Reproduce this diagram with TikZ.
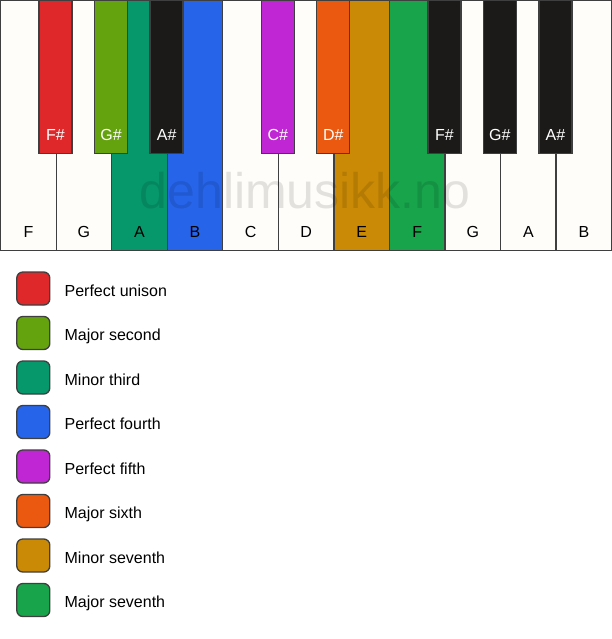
\documentclass[tikz,border=0pt]{standalone}
\usepackage{fontspec}
\setmainfont{Liberation Sans}
\usepackage{tikz}
\usetikzlibrary{positioning}
\usepackage{xcolor}
\definecolor{ivory}{HTML}{FFFDF9}
\definecolor{ebony}{HTML}{1C1A19}
\definecolor{keyline}{HTML}{3F3F3F}
\definecolor{unison}{HTML}{DF2829}
\definecolor{majsecond}{HTML}{64A30E}
\definecolor{minthird}{HTML}{06976A}
\definecolor{perffourth}{HTML}{2664EA}
\definecolor{perffifth}{HTML}{C026D3}
\definecolor{majsixth}{HTML}{EA590F}
\definecolor{minseventh}{HTML}{CA8A05}
\definecolor{majseventh}{HTML}{17A44B}

\tikzset{
  whitekey/.style={rectangle, draw=keyline, fill=ivory, line width=1.3pt,
    minimum width=55.545pt, minimum height=250pt, inner sep=0pt, anchor=north west},
  blackkey/.style={rectangle, draw=keyline, fill=ebony, line width=1.3pt,
    minimum width=33pt, minimum height=153pt, inner sep=0pt, anchor=north},
  keyname/.style={font=\fontsize{16}{18}\selectfont, text=black, inner sep=0pt, anchor=base},
  sharpname/.style={keyname, text=white},
  swatch/.style={rectangle, rounded corners=6pt, draw=keyline, line width=1.3pt,
    minimum size=33pt, inner sep=0pt},
  legendtext/.style={font=\fontsize{16}{18}\selectfont, text=black, inner sep=0pt, anchor=base west},
  watermark/.style={font=\fontsize{50}{55}\selectfont, text=black, text opacity=0.11, inner sep=0pt, anchor=base}
}

\begin{document}
\begin{tikzpicture}[x=1pt, y=-1pt]
\useasboundingbox (0,0) rectangle (611,639);

% white keys
\node[whitekey] (wkF1) at (0,0) {};
\node[whitekey] (wkG1) at (55.545,0) {};
\node[whitekey, fill=minthird] (wkA1) at (111.09,0) {};
\node[whitekey, fill=perffourth] (wkB1) at (166.64,0) {};
\node[whitekey] (wkC) at (222.18,0) {};
\node[whitekey] (wkD) at (277.73,0) {};
\node[whitekey, fill=minseventh] (wkE) at (333.27,0) {};
\node[whitekey, fill=majseventh] (wkF2) at (388.82,0) {};
\node[whitekey] (wkG2) at (444.36,0) {};
\node[whitekey] (wkA2) at (499.91,0) {};
\node[whitekey] (wkB2) at (555.45,0) {};

\node[keyname] (lbF1) at ([yshift=14pt]wkF1.south) {F};
\node[keyname] (lbG1) at ([yshift=14pt]wkG1.south) {G};
\node[keyname] (lbA1) at ([yshift=14pt]wkA1.south) {A};
\node[keyname] (lbB1) at ([yshift=14pt]wkB1.south) {B};
\node[keyname] (lbC) at ([yshift=14pt]wkC.south) {C};
\node[keyname] (lbD) at ([yshift=14pt]wkD.south) {D};
\node[keyname] (lbE) at ([yshift=14pt]wkE.south) {E};
\node[keyname] (lbF2) at ([yshift=14pt]wkF2.south) {F};
\node[keyname] (lbG2) at ([yshift=14pt]wkG2.south) {G};
\node[keyname] (lbA2) at ([yshift=14pt]wkA2.south) {A};
\node[keyname] (lbB2) at ([yshift=14pt]wkB2.south) {B};

\node[watermark] (wm) at (305,208) {dehlimusikk.no};

% black keys
\node[blackkey, fill=unison] (bkFs1) at (55.545,0) {};
\node[blackkey, fill=majsecond] (bkGs1) at (111.09,0) {};
\node[blackkey] (bkAs1) at (166.64,0) {};
\node[blackkey, fill=perffifth] (bkCs) at (277.73,0) {};
\node[blackkey, fill=majsixth] (bkDs) at (333.27,0) {};
\node[blackkey] (bkFs2) at (444.36,0) {};
\node[blackkey] (bkGs2) at (499.91,0) {};
\node[blackkey] (bkAs2) at (555.45,0) {};

\node[sharpname] (lbFs1) at ([yshift=14pt]bkFs1.south) {F\#};
\node[sharpname] (lbGs1) at ([yshift=14pt]bkGs1.south) {G\#};
\node[sharpname] (lbAs1) at ([yshift=14pt]bkAs1.south) {A\#};
\node[sharpname] (lbCs) at ([yshift=14pt]bkCs.south) {C\#};
\node[sharpname] (lbDs) at ([yshift=14pt]bkDs.south) {D\#};
\node[sharpname] (lbFs2) at ([yshift=14pt]bkFs2.south) {F\#};
\node[sharpname] (lbGs2) at ([yshift=14pt]bkGs2.south) {G\#};
\node[sharpname] (lbAs2) at ([yshift=14pt]bkAs2.south) {A\#};

% legend
\node[swatch, fill=unison] (swUni) at (33.3,288.5) {};
\node[swatch, fill=majsecond] (swSec) at (33.3,333) {};
\node[swatch, fill=minthird] (swThi) at (33.3,377.5) {};
\node[swatch, fill=perffourth] (swFou) at (33.3,422) {};
\node[swatch, fill=perffifth] (swFif) at (33.3,466.5) {};
\node[swatch, fill=majsixth] (swSix) at (33.3,511) {};
\node[swatch, fill=minseventh] (swMinSev) at (33.3,555.5) {};
\node[swatch, fill=majseventh] (swMajSev) at (33.3,600) {};

\node[legendtext] (txUni) at ([xshift=14pt,yshift=-7.5pt]swUni.east) {Perfect unison};
\node[legendtext] (txSec) at ([xshift=14pt,yshift=-7.5pt]swSec.east) {Major second};
\node[legendtext] (txThi) at ([xshift=14pt,yshift=-7.5pt]swThi.east) {Minor third};
\node[legendtext] (txFou) at ([xshift=14pt,yshift=-7.5pt]swFou.east) {Perfect fourth};
\node[legendtext] (txFif) at ([xshift=14pt,yshift=-7.5pt]swFif.east) {Perfect fifth};
\node[legendtext] (txSix) at ([xshift=14pt,yshift=-7.5pt]swSix.east) {Major sixth};
\node[legendtext] (txMinSev) at ([xshift=14pt,yshift=-7.5pt]swMinSev.east) {Minor seventh};
\node[legendtext] (txMajSev) at ([xshift=14pt,yshift=-7.5pt]swMajSev.east) {Major seventh};
\end{tikzpicture}
\end{document}
